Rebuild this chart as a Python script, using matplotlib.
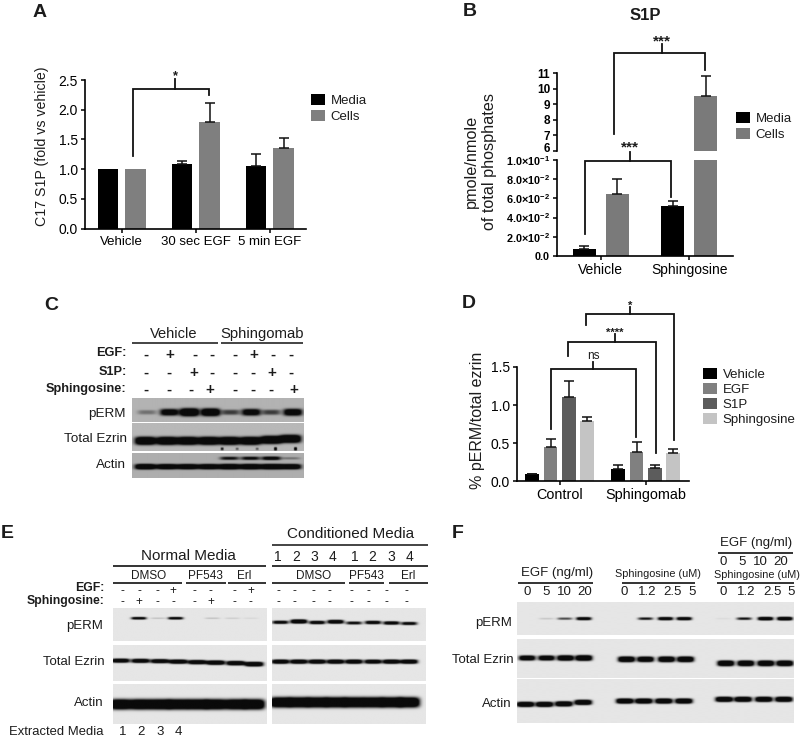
import numpy as np
import matplotlib
matplotlib.use('Agg')
import matplotlib.pyplot as plt
from matplotlib.transforms import ScaledTranslation

plt.rcParams['font.family'] = ['Liberation Sans', 'DejaVu Sans']
plt.rcParams['mathtext.fontset'] = 'custom'
plt.rcParams['mathtext.rm'] = 'Liberation Sans'
plt.rcParams['mathtext.bf'] = 'Liberation Sans:bold'
plt.rcParams['text.color'] = '#1c1c1c'
plt.rcParams['axes.labelcolor'] = '#1c1c1c'

W, H = 800, 739

# panel A
a_groups = ['Vehicle', '30 sec EGF', '5 min EGF']
a_media = [1.0, 1.08, 1.05]
a_media_err = [0, 0.06, 0.21]
a_cells = [1.0, 1.8, 1.35]
a_cells_err = [0, 0.31, 0.18]
a_ticks = [0.0, 0.5, 1.0, 1.5, 2.0, 2.5]

# panel B
b_groups = ['Vehicle', 'Sphingosine']
b_media = [0.0075, 0.052]
b_media_err = [0.003, 0.005]
b_cells = [0.065, 9.5]
b_cells_err = [0.015, 1.3]
b_low_ticks = [0, 0.02, 0.04, 0.06, 0.08, 0.1]
b_low_labels = ['0.0', r'$\mathbf{2.0{\times}10^{-2}}$', r'$\mathbf{4.0{\times}10^{-2}}$',
                r'$\mathbf{6.0{\times}10^{-2}}$', r'$\mathbf{8.0{\times}10^{-2}}$', r'$\mathbf{1.0{\times}10^{-1}}$']
b_high_ticks = [6, 7, 8, 9, 10, 11]

# panel D
d_groups = ['Control', 'Sphingomab']
d_series = ['Vehicle', 'EGF', 'S1P', 'Sphingosine']
d_values = [[0.09, 0.16], [0.45, 0.39], [1.11, 0.17], [0.79, 0.37]]
d_errors = [[0.01, 0.05], [0.10, 0.12], [0.21, 0.05], [0.05, 0.06]]
d_colors = ['#000000', '#808080', '#5c5c5c', '#c4c4c4']
d_ticks = [0.0, 0.5, 1.0, 1.5]

# blots, band darkness by lane
c_egf = ['-', '+', '-', '-', '-', '+', '-', '-']
c_s1p = ['-', '-', '+', '-', '-', '-', '+', '-']
c_sph = ['-', '-', '-', '+', '-', '-', '-', '+']
c_perm = [0.22, 0.75, 1.0, 0.95, 0.4, 0.75, 0.4, 0.8]
c_ezrin = [1, 1, 1, 1, 1, 1, 1, 1]
c_actin = [1, 0.95, 0.95, 0.95, 1, 1, 1, 0.95]
c_actin_upper = [0.55, 0.6, 0.7, 0.2]

e_egf = ['-', '-', '-', '+', '-', '-', '-', '+']
e_sph = ['-', '+', '-', '-', '-', '+', '-', '-']
e_nums = ['1', '2', '3', '4', '1', '2', '3', '4']
e_perm_l = [0, 0.75, 0.1, 0.75, 0, 0.1, 0.07, 0.04]
e_perm_r = [0.7, 1.0, 0.75, 0.9, 0.6, 0.75, 0.75, 0.65]
e_ezrin_l = [0.85, 0.85, 0.85, 0.9, 0.9, 0.95, 0.95, 1.0]
e_ezrin_r = [0.9, 0.9, 0.9, 0.9, 0.9, 0.85, 0.9, 0.9]

f_egf = ['0', '5', '10', '20']
f_sph = ['0', '1.2', '2.5', '5']
f_perm1 = [0, 0.08, 0.4, 0.8]
f_perm2 = [0, 0.55, 0.85, 0.85]
f_perm3 = [0.03, 0.55, 0.95, 1.0]
f_ezrin1 = [0.85, 0.85, 0.95, 1.0]
f_ezrin2 = [1.0, 0.95, 1.0, 1.0]
f_ezrin3 = [1.0, 1.0, 1.0, 1.0]
f_actin = [1.0, 1.0, 1.0, 1.0]

fig = plt.figure(figsize=(W / 100, H / 100), dpi=100)


def px_axes(l, t, r, b):
    ax = fig.add_axes([l / W, 1 - b / H, (r - l) / W, (b - t) / H])
    ax.patch.set_alpha(0)
    for s in ['top', 'right']:
        ax.spines[s].set_visible(False)
    for s in ['left', 'bottom']:
        ax.spines[s].set_linewidth(1.2)
    ax.tick_params(width=1.1, length=3, pad=2)
    return ax


def bars(ax, x, vals, errs, width, color):
    x = np.array(x, dtype=float)
    vals = np.array(vals)
    errs = np.array(errs)
    rects = ax.bar(x, vals, width, color=color, edgecolor='none')
    m = errs > 0
    ax.errorbar(x[m], vals[m], yerr=[np.zeros(m.sum()), errs[m]], fmt='none',
                ecolor='#111111', elinewidth=1.1, capsize=3.6, capthick=1.1)
    return rects


# A
ax = px_axes(84.7, 80, 306, 228.7)
pos = np.arange(3)
m1 = bars(ax, pos - 0.187, a_media, a_media_err, 0.275, '#000000')
m2 = bars(ax, pos + 0.187, a_cells, a_cells_err, 0.275, '#7f7f7f')
ax.set_xlim(-0.5, 2.49)
ax.set_ylim(0, 2.5)
ax.set_yticks(a_ticks, [f'{v:.1f}' for v in a_ticks], fontsize=10)
ax.set_xticks(pos, a_groups, fontsize=9.5)
ax.set_ylabel('C17 S1P (fold vs vehicle)', fontsize=10.2)
ax.yaxis.set_label_coords((49 - 84.7) / 221.3, 1 - (146.7 - 80) / 148.7)
a_ax = ax
a_handles = [m1, m2]

# B
xl = (-0.493, 1.497)
pos = np.arange(2)
low = px_axes(557, 160.3, 733.3, 255.7)
m1 = bars(low, pos - 0.186, b_media, b_media_err, 0.263, '#000000')
m2 = bars(low, pos + 0.186, b_cells, b_cells_err, 0.263, '#7a7a7a')
low.set_xlim(*xl)
low.set_ylim(0, 0.1)
low.set_yticks(b_low_ticks, b_low_labels, fontsize=7.8, fontweight='bold')
low.set_xticks(pos, b_groups, fontsize=10)
high = px_axes(557, 73, 733.3, 150.7)
bars(high, pos - 0.186, b_media, b_media_err, 0.263, '#000000')
bars(high, pos + 0.186, b_cells, b_cells_err, 0.263, '#7a7a7a')
high.set_xlim(*xl)
high.set_ylim(6, 11)
high.spines['bottom'].set_visible(False)
high.set_xticks([])
high.set_yticks(b_high_ticks, [str(v) for v in b_high_ticks], fontsize=8.5, fontweight='bold')
lab6 = high.get_yticklabels()[0]
lab6.set_transform(lab6.get_transform() + ScaledTranslation(0, 3 / 100, fig.dpi_scale_trans))
b_handles = [m1, m2]
low.set_ylabel('pmole/nmole\nof total phosphates', fontsize=11.7, linespacing=1.25)
low.yaxis.set_label_coords((497 - 557) / 176.3, 1 - (161.7 - 160.3) / 95.4)

# D
ax = px_axes(516.7, 367, 689.3, 481.3)
pos = np.arange(2)
d_handles = []
for i in range(4):
    d_handles.append(bars(ax, pos + (i - 1.5) * 0.213, d_values[i], d_errors[i], 0.159, d_colors[i]))
ax.set_xlim((516.7 - 559.7) / 86.1, (689.3 - 559.7) / 86.1)
ax.set_ylim(0, 1.5)
ax.set_yticks(d_ticks, [f'{v:.1f}' for v in d_ticks], fontsize=10)
ax.set_xticks(pos, d_groups, fontsize=10.4)
ax.set_ylabel('% pERM/total ezrin', fontsize=11.5)
ax.yaxis.set_label_coords((485 - 516.7) / 172.6, 1 - (420.7 - 367) / 114.3)
d_ax = ax

# overlay in picture coordinates for the annotation and the blots
over = fig.add_axes([0, 0, 1, 1], zorder=10)
over.patch.set_alpha(0)
over.axis('off')


def reset():
    over.set_xlim(0, W)
    over.set_ylim(H, 0)


reset()


def legend(ax, handles, labels, x, y, spacing):
    ax.legend(handles, labels, loc='upper left', bbox_to_anchor=(x, y), bbox_transform=over.transData,
              frameon=False, fontsize=9.5, handlelength=1.05, handleheight=0.95, handletextpad=0.45,
              labelspacing=spacing, borderpad=0, borderaxespad=0)


legend(a_ax, a_handles, ['Media', 'Cells'], 310.7, 94, 0.18)
legend(low, b_handles, ['Media', 'Cells'], 736, 111.5, 0.22)
legend(d_ax, d_handles, d_series, 702.7, 367.5, 0.15)


def t(x, y, s, size=10, ha='center', weight='normal'):
    over.text(x, y, s, fontsize=size, ha=ha, va='center', fontweight=weight)


def hline(x0, x1, y, lw=1.1):
    over.plot([x0, x1], [y, y], color='#111111', lw=lw, solid_capstyle='butt')


def bracket(xl_, yl, xr, yr, top, xs, ystem, label, ylab, size=8):
    over.plot([xl_, xl_, xr, xr], [yl, top, top, yr], color='#111111', lw=1.3, solid_joinstyle='miter')
    over.plot([xs, xs], [top, ystem], color='#111111', lw=1.3)
    t(xs, ylab, label, size, weight='bold' if label != 'ns' else 'normal')


for letter, x, y in [('A', 39.3, 12.5), ('B', 469.3, 12), ('C', 51.7, 305), ('D', 468.3, 304), ('E', 7, 533), ('F', 457.3, 533)]:
    t(x, y, letter, 14, weight='bold')

t(645.3, 15.7, 'S1P', 12, weight='bold')
bracket(132.7, 155.7, 209.3, 95, 89.3, 175, 79.3, '*', 76.5, 9.4)
bracket(614.3, 134.3, 705.3, 70, 53.3, 661.7, 44.3, '***', 41, 11)
bracket(585, 234.3, 671.3, 197.3, 161, 630.3, 152.3, '***', 147, 11)
bracket(550.7, 429, 635.7, 436.7, 369.3, 593, 361.7, 'ns', 356, 8.5)
bracket(568.3, 355.7, 656, 453.3, 341.7, 615, 334.3, '****', 333, 8)
bracket(586, 325, 674, 440, 314.3, 630.3, 307.3, '*', 305.5, 8)


def field(box, lanes, cy, dark, w, h):
    x0, y0, x1, y1 = box
    xs = np.linspace(x0, x1, int((x1 - x0) * 3))
    ys = np.linspace(y0, y1, int((y1 - y0) * 3))
    X, Y = np.meshgrid(xs, ys)
    F = np.zeros_like(X)
    cys = np.broadcast_to(cy, (len(lanes),))
    for lx, ly, d in zip(lanes, cys, dark):
        if d <= 0:
            continue
        hh = h * (0.45 + 0.55 * d) / 2
        F += d * np.exp(-np.abs((X - lx) / (w / 2)) ** 4) * np.exp(-np.abs((Y - ly) / hh) ** 3)
    return F


def blot(box, bg, fields):
    F = np.clip(sum(fields) * 1.8, 0, 1)
    img = bg - (bg - 0.04) * F
    x0, y0, x1, y1 = box
    over.imshow(img, extent=(x0, x1, y1, y0), cmap='gray', vmin=0, vmax=1, aspect='auto',
                interpolation='bilinear', zorder=1)


def cx(vals, ox):
    return np.array(vals) / 3 + ox


# C
t(173.3, 333.7, 'Vehicle', 10.5)
t(262.3, 333.7, 'Sphingomab', 10.7)
hline(132.3, 217.7, 343)
hline(221, 302.7, 343)
t(126.7, 353.3, 'EGF:', 9.2, 'right', 'bold')
t(126.7, 372.3, 'S1P:', 9.2, 'right', 'bold')
t(126.7, 389, 'Sphingosine:', 9.2, 'right', 'bold')
for xs, y, row in [([348, 420, 495, 546, 615, 672, 730, 783], 355, c_egf),
                   ([348, 418, 490, 546, 615, 668, 724, 783], 373, c_s1p),
                   ([348, 418, 483, 540, 615, 668, 724, 790], 390, c_sph)]:
    for x, s in zip(cx(xs, 30), row):
        t(x, y, s, 11, weight='bold')
t(125.5, 413.5, 'pERM', 9.7, 'right')
t(127, 438.5, 'Total Ezrin', 9.7, 'right')
t(125.5, 465.5, 'Actin', 9.7, 'right')

box = (131.7, 397.7, 303.3, 421.7)
blot(box, 0.70, [field(box, cx([350, 417, 477, 540, 600, 662, 722, 787], 30), 412, c_perm, 19, 8)])
box = (131.7, 423.3, 303.3, 451)
blot(box, 0.72, [field(box, cx([345, 410, 472, 535, 597, 660, 722, 780], 30), [441, 441, 441, 441, 441, 441, 440, 439], c_ezrin, 21, 8),
                 field(box, cx([575, 620, 680, 735, 795], 30), 449, [0.5, 0.3, 0.3, 0.7, 0.7], 3, 4)])
box = (131.7, 453.3, 303.3, 478.3)
blot(box, 0.68, [field(box, cx([345, 410, 472, 535, 597, 660, 722, 780], 30), 467, c_actin, 21, 5.5),
                 field(box, cx([597, 660, 722, 780], 30), 458.5, c_actin_upper, 19, 4.5)])

# E
t(188.3, 556, 'Normal Media', 11)
t(350.7, 534.3, 'Conditioned Media', 11)
hline(271.7, 428.3, 545)
hline(112.7, 266, 566, 1.2)
hline(271.7, 428.3, 566, 1.2)
for x, s in zip(cx([832, 888, 943, 997, 1063, 1118, 1174, 1228], 0), e_nums):
    t(x, 556.7, s, 10)
for x, s in [(149, 'DMSO'), (205.7, 'PF543'), (244, 'Erl'), (313.3, 'DMSO'), (366.7, 'PF543'), (408, 'Erl')]:
    t(x, 575.7, s, 8.5)
for a, b in [(338, 547), (557, 678), (683, 798), (815, 1035), (1047, 1153), (1167, 1285)]:
    hline(a / 3, b / 3, 582.7, 1.2)
t(105, 587.7, 'EGF:', 8.8, 'right', 'bold')
t(105, 601, 'Sphingosine:', 8.8, 'right', 'bold')
for x, a, b in zip(cx([367, 417, 473, 520, 584, 632, 702, 752], 0), e_egf, e_sph):
    t(x, 591, a, 8.5)
    t(x, 601.7, b, 8.5)
for x in cx([835, 883, 940, 988, 1055, 1105, 1160, 1218], 0):
    t(x, 591, '-', 8.5)
    t(x, 601.7, '-', 8.5)
t(103.3, 626, 'pERM', 9.5, 'right')
t(105, 661.7, 'Total Ezrin', 9.5, 'right')
t(103.3, 702.7, 'Actin', 9.5, 'right')
t(9.3, 732, 'Extracted Media', 9.4, 'left')
for x, s in zip(cx([368, 424, 480, 535], 0), e_nums[:4]):
    t(x, 732, s, 9.5)

e_bg = 0.90
lanes_l = cx([360, 420, 478, 533, 590, 645, 705, 760], 0)
lanes_r = cx([840, 895, 950, 1005, 1060, 1117, 1172, 1225], 0)
box = (112.7, 608.3, 266, 640.7)
blot(box, e_bg, [field(box, cx([367, 415, 473, 525, 590, 635, 695, 750], 0), 618.3, e_perm_l, 15, 3)])
box = (271.7, 608.3, 425, 640.7)
blot(box, e_bg, [field(box, lanes_r, [622.3, 621.5, 622.5, 621.8, 623, 622.5, 623, 623.5], e_perm_r, 16, 4)])
box = (112.7, 645, 266, 680.7)
blot(box, e_bg, [field(box, lanes_l, [660.5, 660.7, 661, 661.5, 662, 662.5, 663, 664], e_ezrin_l, 18, 4.5)])
box = (271.7, 645, 425, 680.7)
blot(box, e_bg, [field(box, lanes_r, 661.5, e_ezrin_r, 17, 4.5)])
box = (112.7, 684.3, 266, 724)
blot(box, e_bg, [field(box, lanes_l, 704.5, [1] * 8, 21, 10)])
box = (271.7, 684.3, 425, 724)
blot(box, e_bg, [field(box, lanes_r, 702.5, [1] * 8, 21, 10)])

# F
t(556.7, 573.3, 'EGF (ng/ml)', 9.5)
hline(517.7, 592.7, 582.7, 1.2)
t(658.3, 574.3, 'Sphingosine (uM)', 7.8)
hline(621.7, 695, 582.7, 1.2)
t(755.7, 543.3, 'EGF (ng/ml)', 9.5)
hline(718.3, 793.3, 552.7, 1.2)
t(756.7, 575, 'Sphingosine (uM)', 7.8)
hline(716.7, 794, 582.7, 1.2)
for xs, y, row in [([263, 318, 373, 435], 591.7, f_egf), ([552, 623, 696, 755], 591.7, f_sph),
                   ([851, 905, 960, 1022], 561.7, f_egf), ([851, 920, 996, 1052], 591.7, f_sph)]:
    for x, s in zip(cx(xs, 440), row):
        t(x, y, s, 9.5)
t(511.7, 623.3, 'pERM', 9.5, 'right')
t(513.3, 660, 'Total Ezrin', 9.5, 'right')
t(511.7, 704, 'Actin', 9.5, 'right')

f_perm_lanes = cx([262, 320, 375, 432, 552, 617, 677, 733, 850, 913, 977, 1035], 440)
f_ez_lanes = cx([262, 320, 377, 432, 560, 617, 680, 737, 858, 918, 978, 1035], 440)
f_ac_lanes = cx([257, 314, 372, 430, 555, 612, 672, 732, 853, 910, 972, 1032], 440)
box = (517.3, 602.7, 794, 635)
blot(box, e_bg, [field(box, f_perm_lanes, 619, f_perm1 + f_perm2 + f_perm3, 15, 3.5)])
box = (517.3, 639.3, 794, 677.7)
ez_y = [658] * 4 + [659.3] * 4 + [663.3] * 4
blot(box, e_bg, [field(box, f_ez_lanes, ez_y, f_ezrin1 + f_ezrin2 + f_ezrin3, 16.5, 5.5)])
box = (517.3, 680, 794, 723.3)
ac_y = [705, 705, 704.5, 703] + [701.7] * 4 + [700] * 4
blot(box, e_bg, [field(box, f_ac_lanes, ac_y, f_actin * 3, 17, 5)])

reset()
fig.savefig('out.png', dpi=100)
